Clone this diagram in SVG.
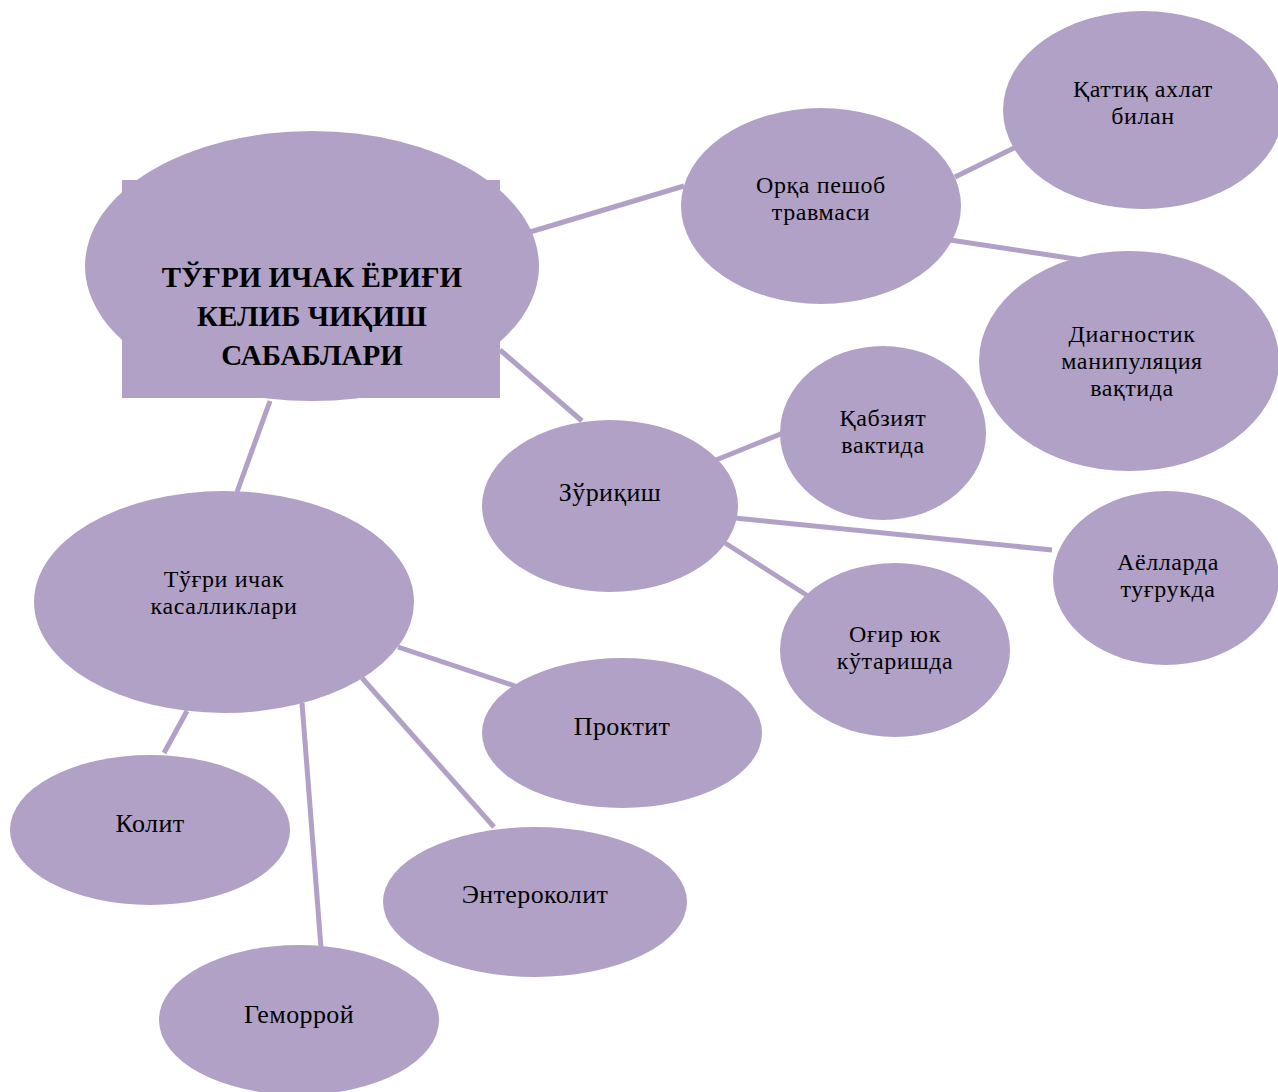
<svg xmlns="http://www.w3.org/2000/svg" width="1278" height="1092" viewBox="0 0 1278 1092">
<style>
.n{fill:#b1a1c7}
.c line{stroke:#b1a1c7;stroke-width:5}
text{font-family:"Liberation Serif","Times New Roman",serif;font-size:24px;letter-spacing:0.6px;fill:#000;text-anchor:middle}
.s{font-size:26px;letter-spacing:0.4px}
.t{font-weight:bold;font-size:29px;letter-spacing:0}
</style>
<rect width="1278" height="1092" fill="#fff"/>
<g id="connectors" class="c">
<line x1="530" y1="232" x2="684" y2="186"/>
<line x1="955" y1="177" x2="1016" y2="147"/>
<line x1="950" y1="240" x2="1082" y2="260"/>
<line x1="500" y1="350" x2="582" y2="421"/>
<line x1="270" y1="401" x2="237" y2="492"/>
<line x1="716" y1="460" x2="783" y2="433"/>
<line x1="735" y1="518" x2="1052" y2="550"/>
<line x1="725" y1="543" x2="808" y2="596"/>
<line x1="398" y1="647" x2="518" y2="687"/>
<line x1="187" y1="711" x2="164" y2="753"/>
<line x1="302" y1="703" x2="321" y2="948"/>
<line x1="362" y1="678" x2="494" y2="827"/>
</g>
<g id="main">
<ellipse class="n" cx="312" cy="266" rx="227" ry="135"/>
<rect class="n" x="122" y="180" width="378" height="218"/>
<text class="t" x="312" y="287">ТЎҒРИ ИЧАК ЁРИҒИ</text>
<text class="t" x="312" y="326">КЕЛИБ ЧИҚИШ</text>
<text class="t" x="312" y="365">САБАБЛАРИ</text>
</g>
<g id="orka">
<ellipse class="n" cx="821" cy="206" rx="140" ry="98"/>
<text x="821" y="193">Орқа пешоб</text>
<text x="821" y="220">травмаси</text>
</g>
<g id="kattik">
<ellipse class="n" cx="1143" cy="110" rx="140" ry="99"/>
<text x="1143" y="97">Қаттиқ ахлат</text>
<text x="1143" y="124">билан</text>
</g>
<g id="diagnostik">
<ellipse class="n" cx="1129" cy="361" rx="150" ry="110"/>
<text x="1132" y="342">Диагностик</text>
<text x="1132" y="369">манипуляция</text>
<text x="1132" y="396">вақтида</text>
</g>
<g id="zurikish">
<ellipse class="n" cx="610" cy="506" rx="128" ry="86"/>
<text class="s" x="610" y="501">Зўриқиш</text>
</g>
<g id="kabziyat">
<ellipse class="n" cx="883" cy="433" rx="103" ry="87"/>
<text x="883" y="426">Қабзият</text>
<text x="883" y="453">вактида</text>
</g>
<g id="ayollarda">
<ellipse class="n" cx="1166" cy="578" rx="113" ry="87"/>
<text x="1168" y="570">Аёлларда</text>
<text x="1168" y="597">туғрукда</text>
</g>
<g id="ogir">
<ellipse class="n" cx="895" cy="650" rx="115" ry="87"/>
<text x="895" y="642">Оғир юк</text>
<text x="895" y="669">кўтаришда</text>
</g>
<g id="tugri">
<ellipse class="n" cx="224" cy="602" rx="190" ry="111"/>
<text x="224" y="587">Тўғри ичак</text>
<text x="224" y="614">касалликлари</text>
</g>
<g id="proktit">
<ellipse class="n" cx="622" cy="733" rx="140" ry="75"/>
<text class="s" x="622" y="735">Проктит</text>
</g>
<g id="kolit">
<ellipse class="n" cx="150" cy="830" rx="140" ry="75"/>
<text class="s" x="150" y="832">Колит</text>
</g>
<g id="enterokolit">
<ellipse class="n" cx="535" cy="902" rx="152" ry="75"/>
<text class="s" x="535" y="903">Энтероколит</text>
</g>
<g id="gemorroy">
<ellipse class="n" cx="299" cy="1020" rx="140" ry="75"/>
<text class="s" x="299" y="1023">Геморрой</text>
</g>
</svg>
